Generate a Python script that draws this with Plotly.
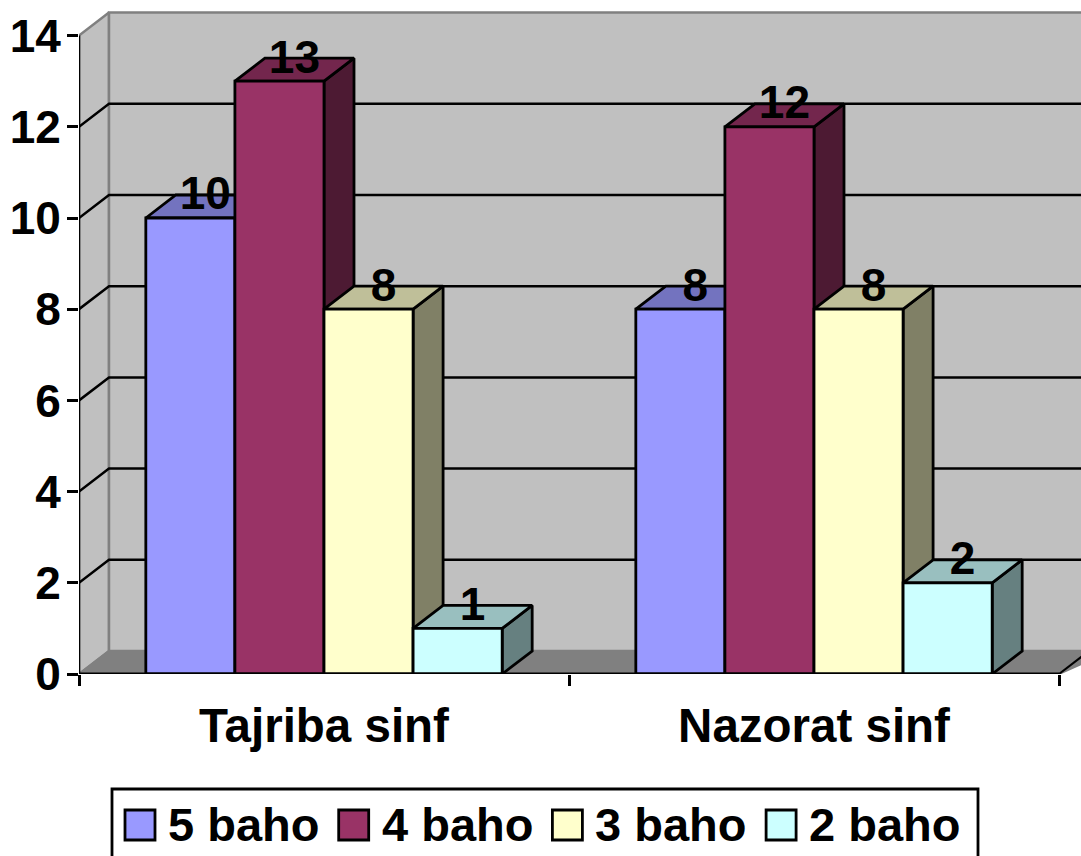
import plotly.graph_objects as go

categories = ["Tajriba sinf", "Nazorat sinf"]
series_names = ["5 baho", "4 baho", "3 baho", "2 baho"]
baho_5 = [10, 8]
baho_4 = [13, 12]
baho_3 = [8, 8]
baho_2 = [1, 2]
series_values = [baho_5, baho_4, baho_3, baho_2]
y_ticks = [0, 2, 4, 6, 8, 10, 12, 14]

front = ["#9999FF", "#993366", "#FFFFCC", "#CCFFFF"]
top = ["#7373BF", "#73264D", "#BFBF99", "#99BFBF"]
side = ["#4D4D80", "#4D1A33", "#808066", "#668080"]

# pixel geometry of the plot frame
L, R, B, T = 79, 1081, 674, 0
CAT = 490.0
UNIT = 45.6
DX = 30 / CAT
DY = 23 / UNIT
XMAX = (R - L) / CAT
YMAX = (B - T) / UNIT
BW = 1 / 5.5
FONT = dict(family="Liberation Sans", size=46, color="black", weight=700)
CAT_FONT = dict(family="Liberation Sans", size=47.5, color="black", weight=700)
LEG_FONT = dict(family="Liberation Sans", size=47, color="black", weight=700)

def px(x):
    return (x - L) / (R - L)

def py(y):
    return (B - y) / (B - T)

fig = go.Figure()

def poly(xs, ys, fill, line, width, axes=("x", "y"), clip=True):
    fig.add_trace(go.Scatter(
        x=xs, y=ys, mode="lines", fill="toself" if fill else None, fillcolor=fill,
        line=dict(color=line, width=width), xaxis=axes[0], yaxis=axes[1],
        hoverinfo="skip", showlegend=False, cliponaxis=clip))

# walls and floor
EXT = XMAX + DX
poly([0, 0, DX, DX, 0], [0, 14, 14 + DY, DY, 0], "#C0C0C0", "#808080", 2.5, clip=False)
poly([DX, DX, EXT, EXT, DX], [DY, 14 + DY, 14 + DY, DY, DY], "#C0C0C0", "#808080", 2.5)
poly([0, DX, EXT, 2, 0], [0, DY, DY, 0, 0], "#808080", "#808080", 2)

# gridlines on side wall and back wall
for v in y_ticks[1:-1]:
    poly([0, DX, EXT], [v, v + DY, v + DY], None, "black", 2.5)
poly([2, 2 + DX], [0, DY], None, "black", 2)

# depth faces, left to right
for c in range(len(categories)):
    start = c + 0.5 - 2 * BW
    for s, vals in enumerate(series_values):
        v = vals[c]
        x0 = start + s * BW
        x1 = x0 + BW
        poly([x1, x1 + DX, x1 + DX, x1, x1], [0, DY, v + DY, v, 0], side[s], "black", 2.8)
        poly([x0, x0 + DX, x1 + DX, x1, x0], [v, v + DY, v + DY, v, v], top[s], "black", 2.8)

# front faces on an overlay so that they cover every depth face
for s, vals in enumerate(series_values):
    fig.add_trace(go.Bar(
        x=[0.5, 1.5], y=vals, name=series_names[s], xaxis="x2", yaxis="y2",
        marker=dict(color=front[s], line=dict(color="black", width=2.8)),
        showlegend=False, hoverinfo="skip"))

# axis lines
poly([0, 0], [0, 14], None, "black", 2.5, axes=("x2", "y2"), clip=False)
poly([0, 2], [0, 0], None, "black", 3, axes=("x2", "y2"), clip=False)

# data labels
for s, vals in enumerate(series_values):
    xs = [c + 0.5 - 2 * BW + (s + 0.5) * BW + DX / 2 for c in range(len(vals))]
    fig.add_trace(go.Scatter(
        x=xs, y=[v + 0.44 for v in vals], text=[str(v) for v in vals],
        mode="text", textposition="middle center", textfont=FONT,
        xaxis="x2", yaxis="y2", hoverinfo="skip", showlegend=False, cliponaxis=False))

# legend box, swatches and labels
shapes = [dict(type="rect", xref="paper", yref="paper", x0=px(112), x1=px(978),
               y0=py(870), y1=py(789), line=dict(color="black", width=2.8),
               fillcolor="white", layer="above")]
annotations = []
for i, name in enumerate(series_names):
    sx = 125 + 213.7 * i
    shapes.append(dict(type="rect", xref="paper", yref="paper", x0=px(sx), x1=px(sx + 30),
                       y0=py(840), y1=py(810), line=dict(color="black", width=2.8),
                       fillcolor=front[i], layer="above"))
    annotations.append(dict(xref="paper", yref="paper", x=px(sx + 43), y=py(825), text=name,
                            showarrow=False, xanchor="left", yanchor="middle",
                            font=LEG_FONT, borderpad=0, borderwidth=0))

fig.update_layout(
    width=1081, height=856, margin=dict(l=L, r=1081 - R, t=T, b=856 - B),
    paper_bgcolor="white", plot_bgcolor="white", showlegend=False,
    barmode="group", bargap=1.5 / 5.5, bargroupgap=0,
    shapes=shapes, annotations=annotations,
    xaxis=dict(range=[0, XMAX], tickmode="array", tickvals=[0.5, 1.5], ticktext=categories,
               ticks="", showgrid=False, zeroline=False, showline=False, tickfont=CAT_FONT,
               ticklabelstandoff=19,
               minor=dict(tickmode="array", tickvals=[0, 1, 2], ticks="outside", ticklen=11,
                          tickwidth=2.5, tickcolor="black", showgrid=False)),
    yaxis=dict(range=[0, YMAX], tickmode="array", tickvals=y_ticks, ticks="outside", ticklen=11,
               tickwidth=2.5, tickcolor="black", showgrid=False, zeroline=False, showline=False,
               tickfont=FONT, ticklabelstandoff=-3),
    xaxis2=dict(range=[0, XMAX], overlaying="x", visible=False, anchor="y2"),
    yaxis2=dict(range=[0, YMAX], overlaying="y", visible=False, anchor="x2"),
)

fig.write_html("out.html", post_script="document.body.style.margin='0';",
               config={"displayModeBar": False})
